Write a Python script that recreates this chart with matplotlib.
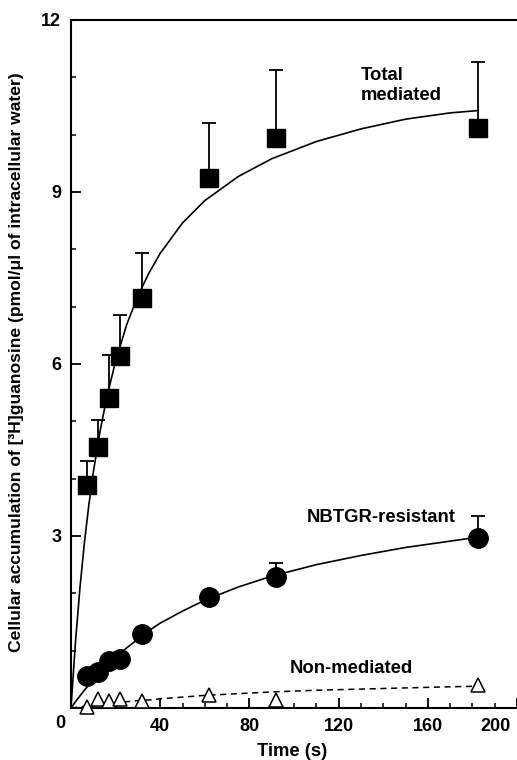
import matplotlib
matplotlib.use("Agg")
import matplotlib.pyplot as plt
import matplotlib.transforms as mtransforms

plt.rcParams['font.family'] = ['Liberation Sans', 'DejaVu Sans']
plt.rcParams['font.weight'] = 'bold'

# sampling times (s)
time_s = [7, 12, 17, 22, 32, 62, 92, 182.5]

# total mediated uptake (filled squares) with upper error
total = [3.89, 4.56, 5.40, 6.14, 7.15, 9.24, 9.94, 10.12]
total_err = [0.42, 0.47, 0.76, 0.71, 0.78, 0.96, 1.19, 1.15]

# NBTGR-resistant (filled circles)
nbtgr = [0.56, 0.63, 0.82, 0.85, 1.29, 1.93, 2.29, 2.97]
nbtgr_err = [0, 0, 0, 0, 0, 0, 0.24, 0.38]

# non-mediated (open triangles)
nonmed = [0.02, 0.15, 0.13, 0.15, 0.12, 0.22, 0.14, 0.40]

# fitted curves
fit_t = [0, 2, 4, 6, 8, 10, 13, 16, 20, 25, 30, 35, 40, 50, 60, 75, 90, 110, 130, 150, 170, 182.5]
total_fit = [0, 1.15, 2.09, 2.88, 3.54, 4.11, 4.82, 5.41, 6.05, 6.69, 7.19, 7.59, 7.93,
             8.46, 8.85, 9.27, 9.58, 9.88, 10.10, 10.27, 10.38, 10.42]
nbtgr_fit = [0, 0.11, 0.21, 0.31, 0.40, 0.49, 0.62, 0.74, 0.88, 1.05, 1.20, 1.35, 1.48,
             1.69, 1.88, 2.11, 2.30, 2.50, 2.66, 2.80, 2.91, 2.98]
nonmed_fit = [0, 0.01, 0.02, 0.03, 0.04, 0.05, 0.06, 0.07, 0.09, 0.11, 0.13, 0.14, 0.16,
              0.19, 0.22, 0.25, 0.28, 0.31, 0.33, 0.35, 0.37, 0.38]

xticks = [0, 40, 80, 120, 160, 200]
yticks = [0, 3, 6, 9, 12]

fig = plt.figure(figsize=(5.17, 7.6), dpi=100)
ax = fig.add_axes([71 / 517, 1 - 708 / 760, 1 - 71 / 517, (708 - 20) / 760])

# curves
ax.plot(fit_t, total_fit, color='black', lw=1.2, zorder=2)
ax.plot(fit_t, nbtgr_fit, color='black', lw=1.2, zorder=2)
ax.plot(fit_t, nonmed_fit, color='black', lw=1.1, ls=(0, (4, 3)), zorder=2)

# error bars (upper only)
ax.errorbar(time_s, total, yerr=[[0] * len(total), total_err], fmt='none',
            ecolor='black', elinewidth=1.3, capsize=5, capthick=1.3, zorder=3)
ax.errorbar(time_s, nbtgr, yerr=[[0] * len(nbtgr), nbtgr_err], fmt='none',
            ecolor='black', elinewidth=1.3, capsize=5, capthick=1.3, zorder=3)

# markers
ax.plot(time_s, total, 's', color='black', ms=13, zorder=4)
ax.plot(time_s, nbtgr, 'o', color='black', ms=14, zorder=4)
ax.plot(time_s, nonmed, '^', mfc='white', mec='black', mew=1.1, ms=10, zorder=4, clip_on=False)

ax.set_xlim(0, 200)
ax.set_ylim(0, 12)
ax.set_xticks(xticks)
ax.set_xticklabels([''] + [str(v) for v in xticks[1:]])
ax.set_yticks(yticks)
ax.set_yticklabels([''] + [str(v) for v in yticks[1:]])
ax.set_xticks(range(0, 201, 10), minor=True)
ax.set_yticks(range(0, 13), minor=True)
ax.tick_params(which='major', direction='in', length=7, width=1.3, labelsize=13, pad=7)
ax.tick_params(which='minor', direction='in', length=3.5, width=1.1)
ax.tick_params(axis='x', which='both', top=False)
ax.tick_params(axis='y', which='both', right=False)

for lab in ax.get_xticklabels():
    if lab.get_text() == '200':
        lab.set_ha('right')
        lab.set_transform(lab.get_transform() + mtransforms.ScaledTranslation(-6 / 100, 0, fig.dpi_scale_trans))

for side in ['left', 'bottom', 'top']:
    ax.spines[side].set_linewidth(1.5)
ax.spines['right'].set_visible(False)

# corner zero
ax.text(0, 0, '0', transform=ax.transAxes + mtransforms.ScaledTranslation(-11 / 100, -15 / 100, fig.dpi_scale_trans),
        ha='center', va='center', fontsize=13, fontweight='bold')

# curve labels
ax.text(130, 11.03, 'Total', fontsize=13.3, fontweight='bold', ha='left', va='center')
ax.text(130, 10.68, 'mediated', fontsize=13.3, fontweight='bold', ha='left', va='center')
ax.text(105.5, 3.33, 'NBTGR-resistant', fontsize=13.3, fontweight='bold', ha='left', va='center')
ax.text(98, 0.69, 'Non-mediated', fontsize=13.3, fontweight='bold', ha='left', va='center')

fig.text(292 / 517, 1 - 751 / 760, 'Time (s)', ha='center', va='center', fontsize=13.3, fontweight='bold')
fig.text(17 / 517, 1 - 362 / 760,
         'Cellular accumulation of [³H]guanosine (pmol/μl of intracellular water)',
         rotation=90, ha='center', va='center', fontsize=12.6, fontweight='bold')

fig.savefig('out.png', dpi=100)
